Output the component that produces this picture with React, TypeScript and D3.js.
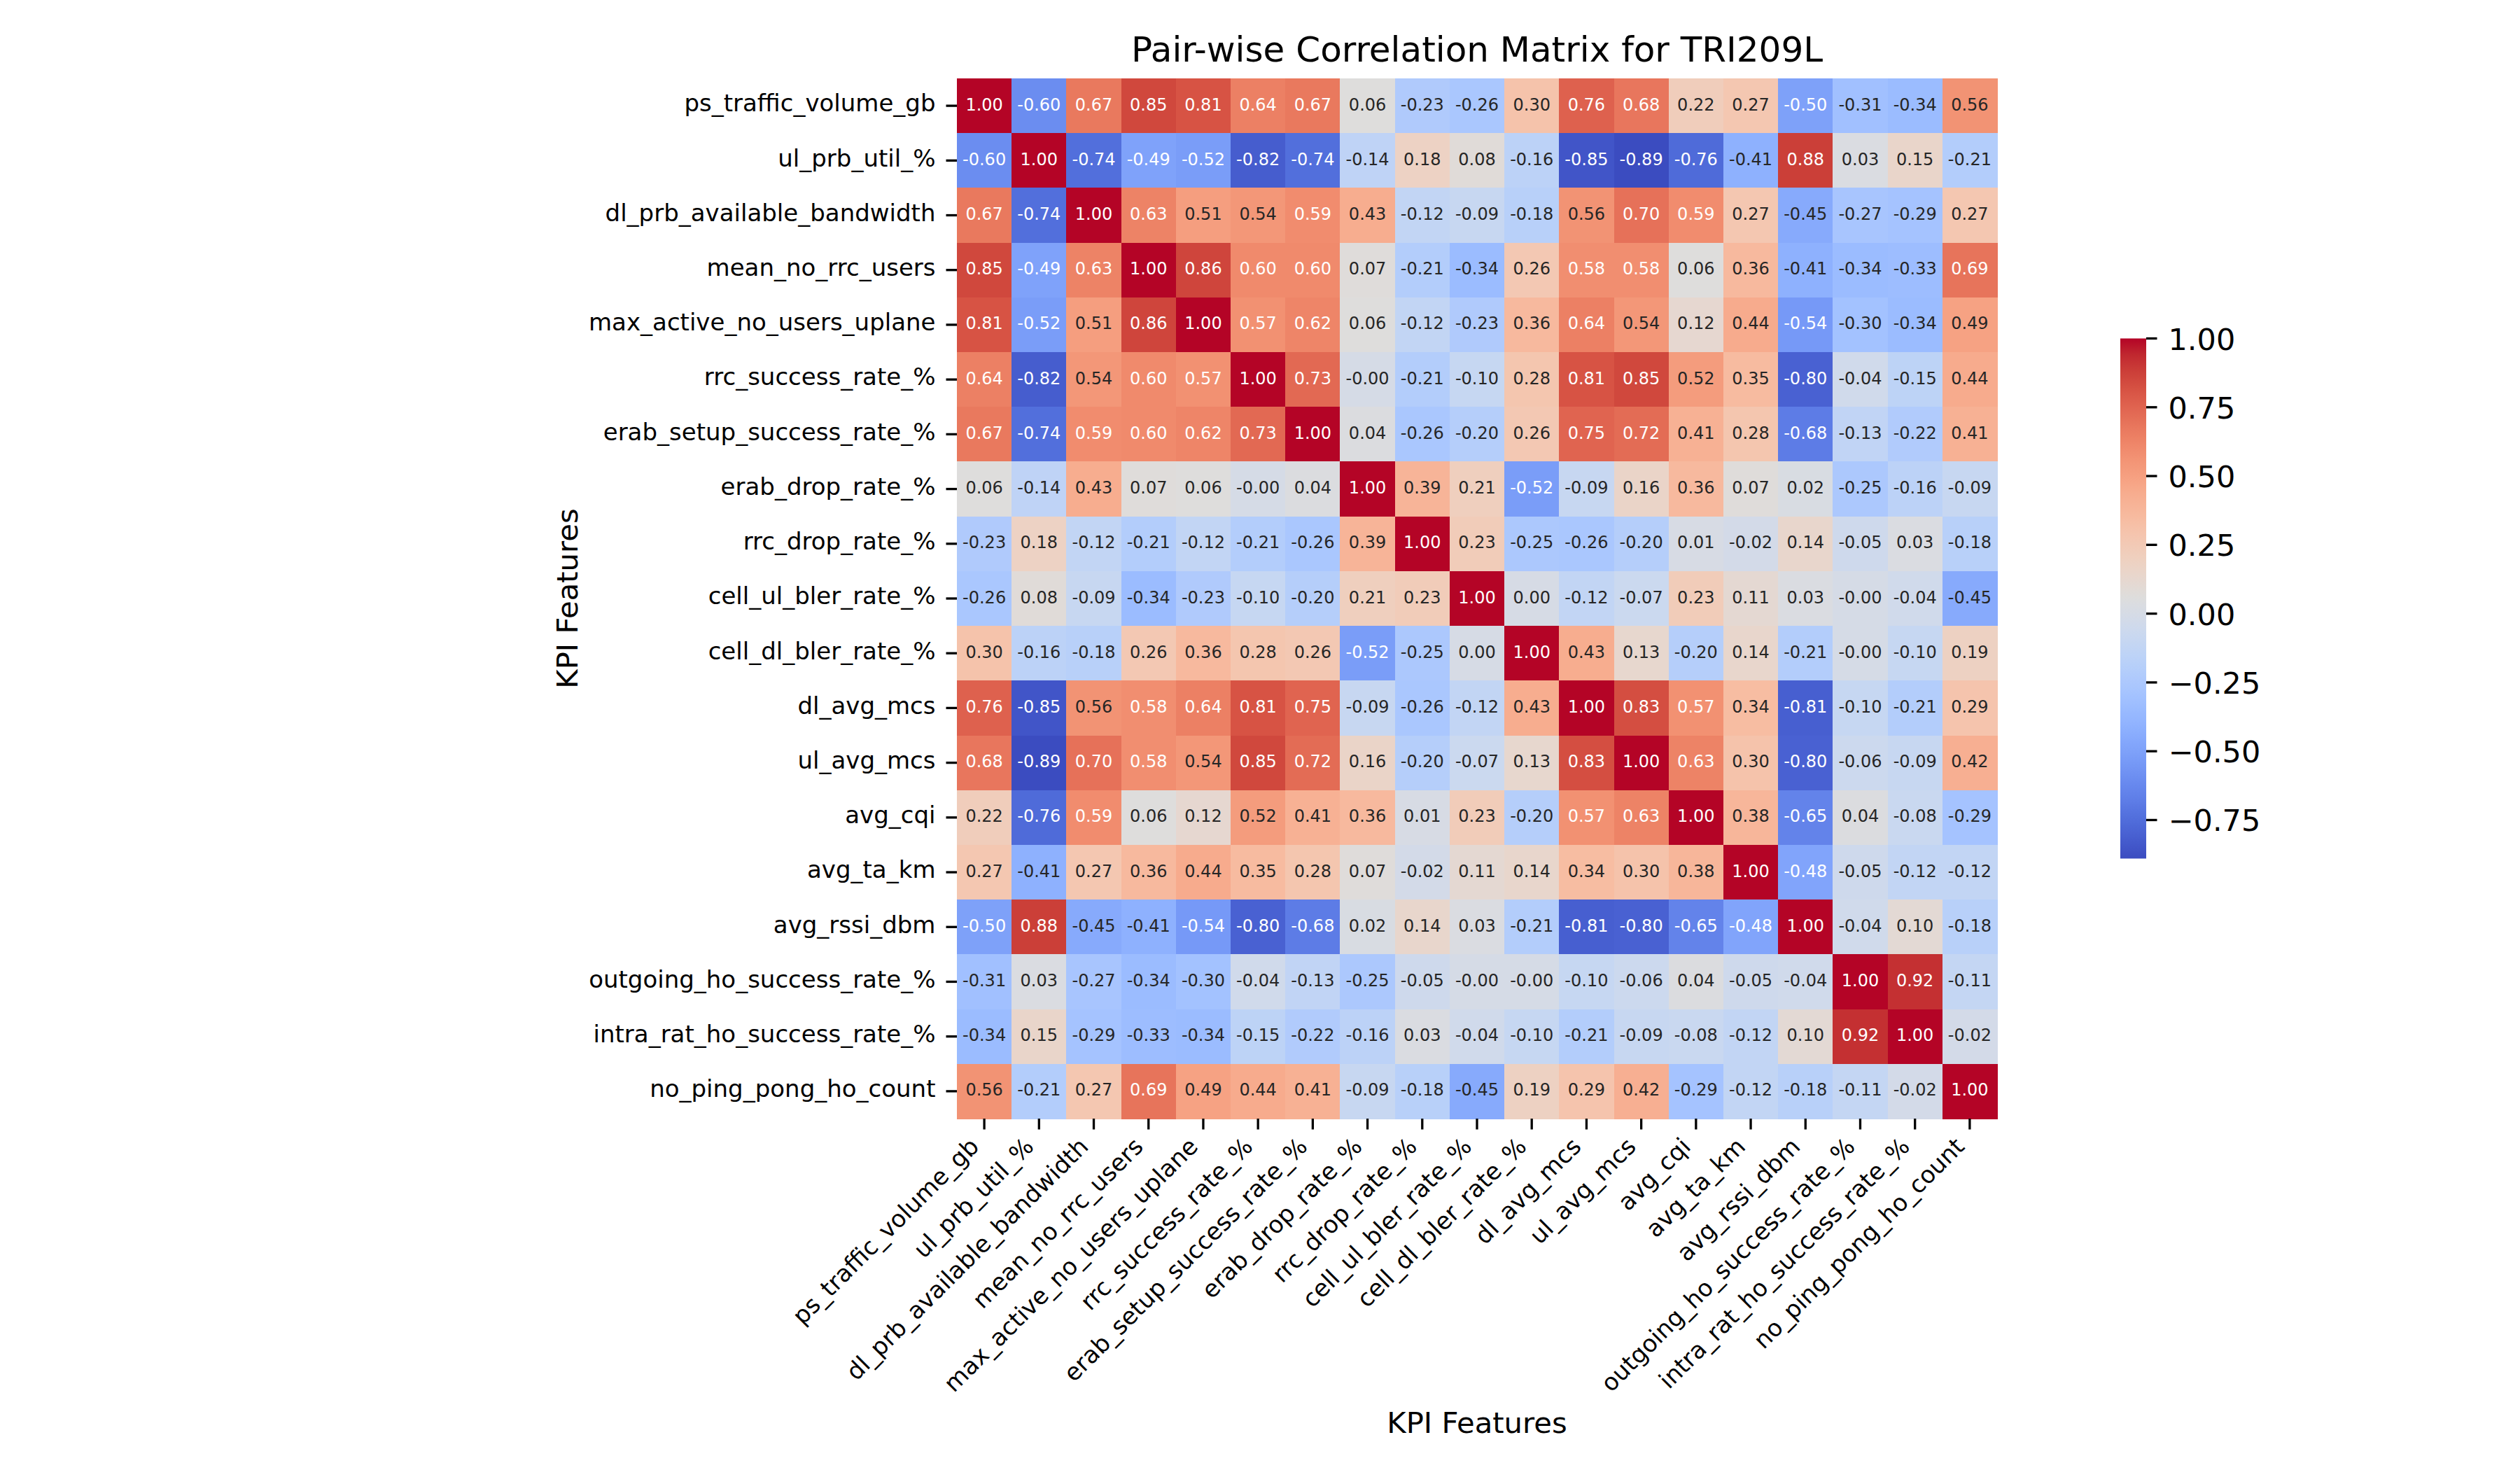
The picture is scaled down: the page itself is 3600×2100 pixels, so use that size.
// Pair-wise correlation heatmap (seaborn-style) for TRI209L KPI features.
// Cells coloured with matplotlib's coolwarm, vmin/vmax taken from the data,
// annotated with 2-decimal values; colorbar at right, half the matrix height.
import * as d3 from "d3";

const FEATURES = [
  "ps_traffic_volume_gb",
  "ul_prb_util_%",
  "dl_prb_available_bandwidth",
  "mean_no_rrc_users",
  "max_active_no_users_uplane",
  "rrc_success_rate_%",
  "erab_setup_success_rate_%",
  "erab_drop_rate_%",
  "rrc_drop_rate_%",
  "cell_ul_bler_rate_%",
  "cell_dl_bler_rate_%",
  "dl_avg_mcs",
  "ul_avg_mcs",
  "avg_cqi",
  "avg_ta_km",
  "avg_rssi_dbm",
  "outgoing_ho_success_rate_%",
  "intra_rat_ho_success_rate_%",
  "no_ping_pong_ho_count",
];

// one row per feature (-0.001 = a value that prints as "-0.00")
const psTraffic = [1.0, -0.6, 0.67, 0.85, 0.81, 0.64, 0.67, 0.06, -0.23, -0.26, 0.3, 0.76, 0.68, 0.22, 0.27, -0.5, -0.31, -0.34, 0.56];
const ulPrbUtil = [-0.6, 1.0, -0.74, -0.49, -0.52, -0.82, -0.74, -0.14, 0.18, 0.08, -0.16, -0.85, -0.89, -0.76, -0.41, 0.88, 0.03, 0.15, -0.21];
const dlPrbBw = [0.67, -0.74, 1.0, 0.63, 0.51, 0.54, 0.59, 0.43, -0.12, -0.09, -0.18, 0.56, 0.7, 0.59, 0.27, -0.45, -0.27, -0.29, 0.27];
const meanRrcUsers = [0.85, -0.49, 0.63, 1.0, 0.86, 0.6, 0.6, 0.07, -0.21, -0.34, 0.26, 0.58, 0.58, 0.06, 0.36, -0.41, -0.34, -0.33, 0.69];
const maxActiveUsers = [0.81, -0.52, 0.51, 0.86, 1.0, 0.57, 0.62, 0.06, -0.12, -0.23, 0.36, 0.64, 0.54, 0.12, 0.44, -0.54, -0.3, -0.34, 0.49];
const rrcSuccess = [0.64, -0.82, 0.54, 0.6, 0.57, 1.0, 0.73, -0.001, -0.21, -0.1, 0.28, 0.81, 0.85, 0.52, 0.35, -0.8, -0.04, -0.15, 0.44];
const erabSetup = [0.67, -0.74, 0.59, 0.6, 0.62, 0.73, 1.0, 0.04, -0.26, -0.2, 0.26, 0.75, 0.72, 0.41, 0.28, -0.68, -0.13, -0.22, 0.41];
const erabDrop = [0.06, -0.14, 0.43, 0.07, 0.06, -0.001, 0.04, 1.0, 0.39, 0.21, -0.52, -0.09, 0.16, 0.36, 0.07, 0.02, -0.25, -0.16, -0.09];
const rrcDrop = [-0.23, 0.18, -0.12, -0.21, -0.12, -0.21, -0.26, 0.39, 1.0, 0.23, -0.25, -0.26, -0.2, 0.01, -0.02, 0.14, -0.05, 0.03, -0.18];
const ulBler = [-0.26, 0.08, -0.09, -0.34, -0.23, -0.1, -0.2, 0.21, 0.23, 1.0, 0.0, -0.12, -0.07, 0.23, 0.11, 0.03, -0.001, -0.04, -0.45];
const dlBler = [0.3, -0.16, -0.18, 0.26, 0.36, 0.28, 0.26, -0.52, -0.25, 0.0, 1.0, 0.43, 0.13, -0.2, 0.14, -0.21, -0.001, -0.1, 0.19];
const dlMcs = [0.76, -0.85, 0.56, 0.58, 0.64, 0.81, 0.75, -0.09, -0.26, -0.12, 0.43, 1.0, 0.83, 0.57, 0.34, -0.81, -0.1, -0.21, 0.29];
const ulMcs = [0.68, -0.89, 0.7, 0.58, 0.54, 0.85, 0.72, 0.16, -0.2, -0.07, 0.13, 0.83, 1.0, 0.63, 0.3, -0.8, -0.06, -0.09, 0.42];
const avgCqi = [0.22, -0.76, 0.59, 0.06, 0.12, 0.52, 0.41, 0.36, 0.01, 0.23, -0.2, 0.57, 0.63, 1.0, 0.38, -0.65, 0.04, -0.08, -0.29];
const avgTa = [0.27, -0.41, 0.27, 0.36, 0.44, 0.35, 0.28, 0.07, -0.02, 0.11, 0.14, 0.34, 0.3, 0.38, 1.0, -0.48, -0.05, -0.12, -0.12];
const avgRssi = [-0.5, 0.88, -0.45, -0.41, -0.54, -0.8, -0.68, 0.02, 0.14, 0.03, -0.21, -0.81, -0.8, -0.65, -0.48, 1.0, -0.04, 0.1, -0.18];
const outHo = [-0.31, 0.03, -0.27, -0.34, -0.3, -0.04, -0.13, -0.25, -0.05, -0.001, -0.001, -0.1, -0.06, 0.04, -0.05, -0.04, 1.0, 0.92, -0.11];
const intraRatHo = [-0.34, 0.15, -0.29, -0.33, -0.34, -0.15, -0.22, -0.16, 0.03, -0.04, -0.1, -0.21, -0.09, -0.08, -0.12, 0.1, 0.92, 1.0, -0.02];
const pingPong = [0.56, -0.21, 0.27, 0.69, 0.49, 0.44, 0.41, -0.09, -0.18, -0.45, 0.19, 0.29, 0.42, -0.29, -0.12, -0.18, -0.11, -0.02, 1.0];

const ROWS = [
  psTraffic, ulPrbUtil, dlPrbBw, meanRrcUsers, maxActiveUsers, rrcSuccess, erabSetup,
  erabDrop, rrcDrop, ulBler, dlBler, dlMcs, ulMcs, avgCqi, avgTa, avgRssi, outHo, intraRatHo, pingPong,
];

const CBAR_TICKS = [-0.75, -0.5, -0.25, 0.0, 0.25, 0.5, 0.75, 1.0];

// matplotlib coolwarm (Moreland diverging map, 33 control points)
const COOLWARM = [
  [59, 76, 192], [68, 90, 204], [77, 104, 215], [87, 117, 225], [98, 130, 234], [108, 142, 241],
  [119, 154, 247], [130, 165, 251], [141, 176, 254], [152, 185, 255], [163, 194, 255], [174, 201, 253],
  [184, 208, 249], [194, 213, 244], [204, 217, 238], [213, 219, 230], [221, 221, 221], [229, 216, 209],
  [236, 211, 197], [241, 204, 185], [245, 196, 173], [247, 187, 160], [247, 177, 148], [247, 166, 135],
  [244, 154, 123], [241, 141, 111], [236, 127, 99], [229, 112, 88], [222, 96, 77], [213, 80, 66],
  [203, 62, 56], [192, 40, 47], [180, 4, 38],
];
const coolwarm = d3
  .scaleLinear<string>()
  .domain(COOLWARM.map((_c, i) => i / (COOLWARM.length - 1)))
  .range(COOLWARM.map(([r, g, b]) => `rgb(${r},${g},${b})`))
  .interpolate(d3.interpolateRgb)
  .clamp(true);

const FONT = "'DejaVu Sans', 'Liberation Sans', sans-serif";

// seaborn: dark text on light cells, white on dark ones
function textColor(fill: string) {
  const c = d3.rgb(fill);
  const lin = (v: number) => {
    const s = v / 255;
    return s <= 0.03928 ? s / 12.92 : Math.pow((s + 0.055) / 1.055, 2.4);
  };
  const lum = 0.2126 * lin(c.r) + 0.7152 * lin(c.g) + 0.0722 * lin(c.b);
  return lum > 0.408 ? "#262626" : "#ffffff";
}

export default function App() {
  const W = 3600;
  const H = 2100;
  const left = 1367;
  const top = 112;
  const size = 1486;
  const tickLen = 15.5;
  const tickW = 3.3;
  const tickFs = 34;

  const x = d3.scaleBand<string>().domain(FEATURES).range([left, left + size]);
  const y = d3.scaleBand<string>().domain(FEATURES).range([top, top + size]);
  const bw = x.bandwidth();

  const all = ROWS.flat();
  const vmin = d3.min(all) ?? -1;
  const vmax = d3.max(all) ?? 1;
  const norm = d3.scaleLinear().domain([vmin, vmax]).range([0, 1]);

  // colorbar: half the matrix height, centred on it
  const cbH = size / 2;
  const cbTop = top + size / 2 - cbH / 2;
  const cbX = 3029;
  const cbW = 37;
  const cbY = d3.scaleLinear().domain([vmin, vmax]).range([cbTop + cbH, cbTop]);
  const gradStops = d3.range(0, 65).map((i) => i / 64);

  const cx = left + size / 2;
  const bottom = top + size;
  const diag = Math.SQRT1_2;

  return (
    <>
      <style>{`body{margin:0;overflow:hidden;background:#fff}`}</style>
      <svg width={W} height={H} viewBox={`0 0 ${W} ${H}`} style={{ display: "block", background: "#fff" }} fontFamily={FONT}>
        <defs>
          <linearGradient id="cbar" x1="0" y1="1" x2="0" y2="0">
            {gradStops.map((t) => (
              <stop key={t} offset={t} stopColor={coolwarm(t)} />
            ))}
          </linearGradient>
        </defs>

        {/* title */}
        <text x={cx} y={88} textAnchor="middle" fontSize={50} fill="#000">
          Pair-wise Correlation Matrix for TRI209L
        </text>

        {/* cells */}
        <g shapeRendering="crispEdges">
          {ROWS.map((row, i) =>
            row.map((v, j) => (
              <rect
                key={`${i}-${j}`}
                x={x(FEATURES[j])!}
                y={y(FEATURES[i])!}
                width={bw + 0.6}
                height={bw + 0.6}
                fill={coolwarm(norm(v))}
              />
            ))
          )}
        </g>

        {/* annotations */}
        <g fontSize={24} textAnchor="middle">
          {ROWS.map((row, i) =>
            row.map((v, j) => (
              <text
                key={`t${i}-${j}`}
                x={x(FEATURES[j])! + bw / 2}
                y={y(FEATURES[i])! + bw / 2 + 6.5}
                fill={textColor(coolwarm(norm(v)))}
              >
                {v.toFixed(2)}
              </text>
            ))
          )}
        </g>

        {/* y ticks + labels */}
        <g>
          {FEATURES.map((f) => {
            const yy = y(f)! + bw / 2;
            return (
              <g key={`y-${f}`}>
                <line x1={left - tickLen} x2={left} y1={yy} y2={yy} stroke="#000" strokeWidth={tickW} />
                <text x={left - tickLen - 15} y={yy + 8.3} textAnchor="end" fontSize={tickFs} fill="#000">
                  {f}
                </text>
              </g>
            );
          })}
        </g>

        {/* x ticks + rotated labels */}
        <g>
          {FEATURES.map((f) => {
            const xx = x(f)! + bw / 2;
            const ax = xx - tickFs * 0.236 * diag;
            const ay = 1640;
            return (
              <g key={`x-${f}`}>
                <line x1={xx} x2={xx} y1={bottom} y2={bottom + tickLen} stroke="#000" strokeWidth={tickW} />
                <text
                  x={ax}
                  y={ay}
                  transform={`rotate(-45 ${ax} ${ay})`}
                  textAnchor="end"
                  fontSize={tickFs}
                  fill="#000"
                >
                  {f}
                </text>
              </g>
            );
          })}
        </g>

        {/* axis labels */}
        <text x={cx} y={2047} textAnchor="middle" fontSize={41.7} fill="#000">
          KPI Features
        </text>
        <text
          x={825}
          y={top + size / 2}
          transform={`rotate(-90 825 ${top + size / 2})`}
          textAnchor="middle"
          fontSize={41.7}
          fill="#000"
        >
          KPI Features
        </text>

        {/* colorbar */}
        <rect x={cbX} y={cbTop} width={cbW} height={cbH} fill="url(#cbar)" />
        <g>
          {CBAR_TICKS.map((t) => {
            const yy = cbY(t);
            return (
              <g key={`cb-${t}`}>
                <line x1={cbX + cbW} x2={cbX + cbW + tickLen} y1={yy} y2={yy} stroke="#000" strokeWidth={tickW} />
                <text x={cbX + cbW + tickLen + 16} y={yy + 16} fontSize={43} fill="#000">
                  {t.toFixed(2).replace("-", "\u2212")}
                </text>
              </g>
            );
          })}
        </g>
      </svg>
    </>
  );
}
